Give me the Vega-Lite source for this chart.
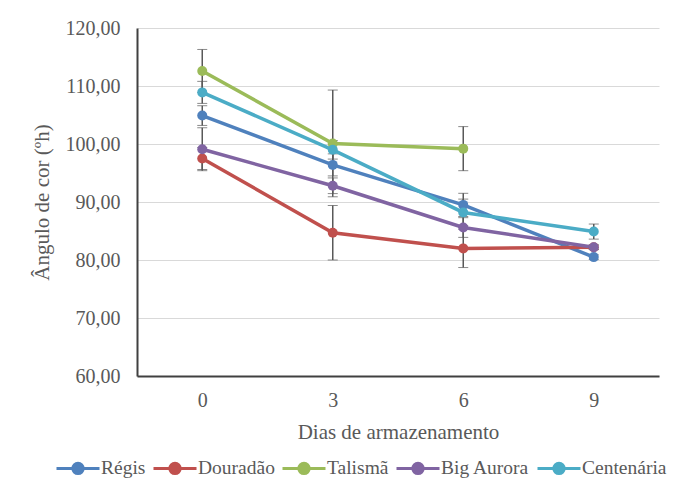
{
  "$schema": "https://vega.github.io/schema/vega-lite/v6.json",
  "width": 522,
  "height": 348,
  "padding": {"left": 31, "top": 18, "right": 5, "bottom": 5},
  "background": "white",
  "config": {
    "font": "Liberation Serif",
    "view": {"stroke": null},
    "axis": {"labelFont": "Liberation Serif", "titleFont": "Liberation Serif", "labelColor": "#595959", "titleColor": "#595959", "labelFontSize": 20, "titleFontSize": 21, "titleFontWeight": "normal", "ticks": false, "domainColor": "#404040", "domainWidth": 2, "gridColor": "#d9d9d9", "gridWidth": 1}
  },
  "data": {
    "values": [
      {"dia": "0", "cultivar": "Régis", "valor": 104.9, "erro": 1.7},
      {"dia": "3", "cultivar": "Régis", "valor": 96.4, "erro": 1.9},
      {"dia": "6", "cultivar": "Régis", "valor": 89.5, "erro": 2.0},
      {"dia": "9", "cultivar": "Régis", "valor": 80.5, "erro": 0.4},
      {"dia": "0", "cultivar": "Douradão", "valor": 97.5, "erro": 1.9},
      {"dia": "3", "cultivar": "Douradão", "valor": 84.7, "erro": 4.7},
      {"dia": "6", "cultivar": "Douradão", "valor": 82.0, "erro": 3.3},
      {"dia": "9", "cultivar": "Douradão", "valor": 82.2, "erro": 0.4},
      {"dia": "0", "cultivar": "Talismã", "valor": 112.6, "erro": 3.7},
      {"dia": "3", "cultivar": "Talismã", "valor": 100.1, "erro": 9.2},
      {"dia": "6", "cultivar": "Talismã", "valor": 99.2, "erro": 3.8},
      {"dia": "0", "cultivar": "Big Aurora", "valor": 99.1, "erro": 3.7},
      {"dia": "3", "cultivar": "Big Aurora", "valor": 92.8, "erro": 1.35},
      {"dia": "6", "cultivar": "Big Aurora", "valor": 85.6, "erro": 1.7},
      {"dia": "9", "cultivar": "Big Aurora", "valor": 82.2, "erro": 0.4},
      {"dia": "0", "cultivar": "Centenária", "valor": 108.9, "erro": 1.9},
      {"dia": "3", "cultivar": "Centenária", "valor": 99.0, "erro": 1.6},
      {"dia": "6", "cultivar": "Centenária", "valor": 88.2, "erro": 2.3},
      {"dia": "9", "cultivar": "Centenária", "valor": 84.9, "erro": 1.3}
    ]
  },
  "encoding": {
    "x": {"field": "dia", "type": "ordinal", "sort": ["0", "3", "6", "9"], "scale": {"type": "point", "padding": 0.5}, "axis": {"title": "Dias de armazenamento", "labelAngle": 0, "labelPadding": 14, "titlePadding": 11, "grid": false}},
    "y": {"field": "valor", "type": "quantitative", "scale": {"domain": [60, 120], "nice": false, "zero": false}, "axis": {"title": "Ângulo de cor (ºh)", "values": [60, 70, 80, 90, 100, 110, 120], "labelExpr": "replace(format(datum.value, '.2f'), '.', ',')", "labelPadding": 17, "titlePadding": 13, "grid": true}}
  },
  "layer": [
    {
      "mark": {"type": "errorbar", "ticks": {"size": 10, "color": "#595959", "strokeWidth": 1.5}, "rule": {"color": "#595959", "strokeWidth": 1.5}},
      "encoding": {"yError": {"field": "erro"}, "detail": {"field": "cultivar"}}
    },
    {
      "mark": {"type": "line", "strokeWidth": 3.5},
      "encoding": {"color": {"field": "cultivar", "type": "nominal", "scale": {"domain": ["Régis", "Douradão", "Talismã", "Big Aurora", "Centenária"], "range": ["#4F81BD", "#C0504D", "#9BBB59", "#8064A2", "#4BACC6"]}, "legend": {"title": null, "orient": "none", "legendX": -82, "legendY": 417, "direction": "horizontal", "labelFont": "Liberation Serif", "labelFontSize": 19.5, "labelColor": "#595959", "symbolType": "M-1,0H1M0.24,0A0.24,0.24,0,1,1,-0.24,0A0.24,0.24,0,1,1,0.24,0Z", "symbolSize": 1849, "symbolStrokeWidth": 3, "labelOffset": 0, "columnPadding": 1, "encode": {"symbols": {"update": {"fill": {"scale": "color", "field": "value"}, "stroke": {"scale": "color", "field": "value"}}}}}}}
    },
    {
      "mark": {"type": "point", "filled": true, "size": 100, "opacity": 1, "shape": "circle"},
      "encoding": {"color": {"field": "cultivar", "type": "nominal"}}
    }
  ]
}
